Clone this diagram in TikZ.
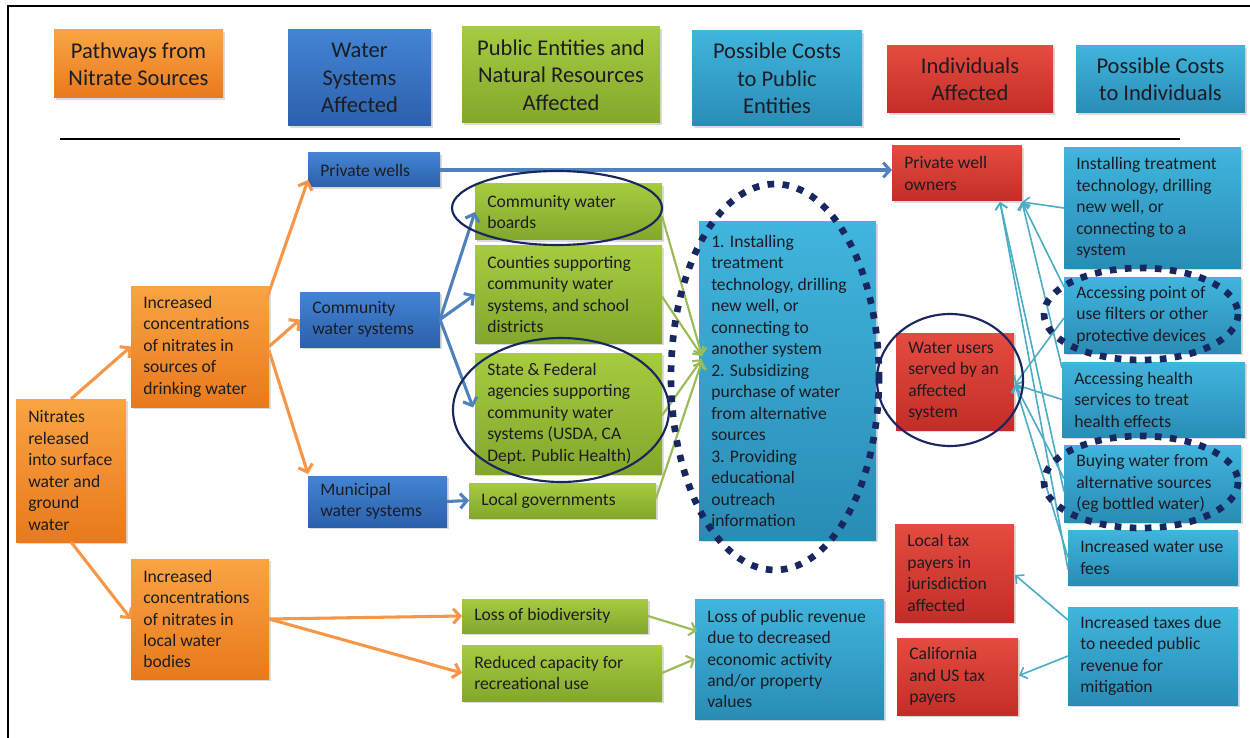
\documentclass[tikz,border=0pt]{standalone}
\usepackage{fontspec}
\setmainfont{Carlito}
\usetikzlibrary{arrows.meta,calc,shadows}

% box fills (top / bottom of the gradient)
\definecolor{orTop}{HTML}{F9A443}
\definecolor{orBot}{HTML}{E8791E}
\definecolor{blTop}{HTML}{4384D2}
\definecolor{blBot}{HTML}{2C60AC}
\definecolor{grTop}{HTML}{A6CB40}
\definecolor{grBot}{HTML}{83A72C}
\definecolor{tlTop}{HTML}{40B5DD}
\definecolor{tlBot}{HTML}{2A8CB5}
\definecolor{rdTop}{HTML}{E54B40}
\definecolor{rdBot}{HTML}{C22E27}
% connectors and outlines
\definecolor{arrOr}{HTML}{F79646}
\definecolor{arrBl}{HTML}{4F81BD}
\definecolor{arrGr}{HTML}{9BBB59}
\definecolor{arrTl}{HTML}{4BACC6}
\definecolor{navy}{HTML}{18275F}
\definecolor{ink}{HTML}{1C1C22}

\newcommand\bodyfont{\fontsize{13.2}{16.1}\selectfont}
\newcommand\headfont{\fontsize{16.9}{20.6}\selectfont}

\tikzset{
  base/.style={rectangle, inner sep=0pt, outer sep=0pt,
    drop shadow={shadow xshift=1.2pt, shadow yshift=-1.5pt, opacity=0.28}},
  orbox/.style={base, top color=orTop, bottom color=orBot},
  blbox/.style={base, top color=blTop, bottom color=blBot},
  grbox/.style={base, top color=grTop, bottom color=grBot},
  tlbox/.style={base, top color=tlTop, bottom color=tlBot},
  rdbox/.style={base, top color=rdTop, bottom color=rdBot},
  txt/.style={inner sep=0pt, align=left, text=ink, font=\bodyfont},
  head/.style={inner sep=0pt, align=center, text=ink, font=\headfont},
  oarr/.style={draw=arrOr, line width=2.3pt,
    -{Straight Barb[length=5pt,width=11pt]}},
  barr/.style={draw=arrBl, line width=2.3pt,
    -{Straight Barb[length=5pt,width=11pt]}},
  garr/.style={draw=arrGr, line width=1.6pt,
    -{Straight Barb[length=4.5pt,width=10pt]}},
  tarr/.style={draw=arrTl, line width=1.2pt,
    -{Straight Barb[length=4.5pt,width=9pt]}},
  ring/.style={draw=navy, line width=1.6pt},
  dotring/.style={draw=navy, line width=5pt, dash pattern=on 5pt off 6.3pt},
}

% #1 name, #2 style, #3 x1, #4 y1, #5 x2, #6 y2, #7 text (left aligned)
\newcommand\tbox[7]{%
  \node[#2, anchor=north west, minimum width={(#5-#3)*0.75pt},
        minimum height={(#6-#4)*0.75pt}] (#1) at (#3,#4) {};
  \node[txt, anchor=west] (#1-t) at ($(#1.west)+(12,0)$) {#7};
}
% same, with centred heading text
\newcommand\headbox[7]{%
  \node[#2, anchor=north west, minimum width={(#5-#3)*0.75pt},
        minimum height={(#6-#4)*0.75pt}] (#1) at (#3,#4) {};
  \node[head] (#1-t) at (#1.center) {#7};
}

\begin{document}
\begin{tikzpicture}[x=0.75pt, y=-0.75pt]
\useasboundingbox (0,0) rectangle (1250,738);
\fill[white] (0,0) rectangle (1250,738);

% frame and rule under the headings
\draw[black, line width=2.2pt] (8,738) -- (8,6) -- (1250,6);
\draw[black, line width=2.2pt] (60,139) -- (1180,139);

% column headings
\headbox{h1}{orbox}{54}{30}{223}{98}{Pathways from\\Nitrate Sources}
\headbox{h2}{blbox}{288}{30}{431}{126}{Water\\Systems\\Affected}
\headbox{h3}{grbox}{462}{27}{660}{123}{Public Entities and\\Natural Resources\\Affected}
\headbox{h4}{tlbox}{692}{31}{862}{126}{Possible Costs\\to Public\\Entities}
\headbox{h5}{rdbox}{887}{46}{1053}{113}{Individuals\\Affected}
\headbox{h6}{tlbox}{1076}{46}{1245}{113}{Possible Costs\\to Individuals}

% pathways
\tbox{nit}{orbox}{16}{399}{126}{542}{Nitrates\\released\\into surface\\water and\\ground\\water}
\tbox{incd}{orbox}{131}{286}{269}{407}{Increased\\concentrations\\of nitrates in\\sources of\\drinking water}
\tbox{incl}{orbox}{131}{559}{269}{679}{Increased\\concentrations\\of nitrates in\\local water\\bodies}

% water systems
\tbox{pw}{blbox}{308}{153}{440}{187}{Private wells}
\tbox{cws}{blbox}{300}{292}{440}{347}{Community\\water systems}
\tbox{mws}{blbox}{308}{476}{447}{527}{Municipal\\water systems}

% public entities and natural resources
\tbox{cwb}{grbox}{475}{184}{662}{240}{Community water\\boards}
\tbox{cty}{grbox}{475}{246}{662}{343}{Counties supporting\\community water\\systems, and school\\districts}
\tbox{sfa}{grbox}{475}{353}{662}{474}{State \& Federal\\agencies supporting\\community water\\systems (USDA, CA\\Dept. Public Health)}
\tbox{lg}{grbox}{469}{483}{656}{518}{Local governments}
\tbox{lob}{grbox}{462}{599}{648}{633}{Loss of biodiversity}
\tbox{rcr}{grbox}{462}{645}{662}{701}{Reduced capacity for\\recreational use}

% costs to public entities
\tbox{pce}{tlbox}{699}{222}{876}{540}{1. Installing\\treatment\\technology, drilling\\new well, or\\connecting to\\another system\\2. Subsidizing\\purchase of water\\from alternative\\sources\\3. Providing\\educational\\outreach\\information}
\tbox{lpr}{tlbox}{695}{599}{884}{719}{Loss of public revenue\\due to decreased\\economic activity\\and/or property\\values}

% individuals
\tbox{pwo}{rdbox}{892}{146}{1022}{201}{Private well\\owners}
\tbox{wu}{rdbox}{896}{333}{1014}{430}{Water users\\served by an\\affected\\system}
\tbox{ltp}{rdbox}{895}{524}{1014}{622}{Local tax\\payers in\\jurisdiction\\affected}
\tbox{cal}{rdbox}{897}{638}{1018}{715}{California\\and US tax\\payers}

% costs to individuals
\tbox{itt}{tlbox}{1064}{148}{1241}{268}{Installing treatment\\technology, drilling\\new well, or\\connecting to a\\system}
\tbox{apu}{tlbox}{1064}{277}{1241}{353}{Accessing point of\\use filters or other\\protective devices}
\tbox{ahs}{tlbox}{1062}{362}{1245}{437}{Accessing health\\services to treat\\health effects}
\tbox{bw}{tlbox}{1064}{445}{1241}{522}{Buying water from\\alternative sources\\(eg bottled water)}
\tbox{fee}{tlbox}{1068}{530}{1238}{585}{Increased water use\\fees}
\tbox{tax}{tlbox}{1068}{607}{1238}{705}{Increased taxes due\\to needed public\\revenue for\\mitigation}

% pathway connectors
\draw[oarr] (nit.north) -- (incd.west);
\draw[oarr] (nit.south) -- (incl.west);
\draw[oarr] ($(incd.north east)+(-2,12)$) -- ($(pw.south west)+(0,-7)$);
\draw[oarr] (incd.east) -- (cws.west);
\draw[oarr] ($(incd.east)+(0,4)$) -- ($(mws.north west)+(0,-2)$);
\draw[oarr] (incl.east) -- (lob.west);
\draw[oarr] (incl.east) -- (rcr.west);

% water system connectors
\draw[barr] (pw.east) -- (pw.east -| pwo.west);
\draw[barr] (cws.east) -- (cwb.west);
\draw[barr] (cws.east) -- (cty.west);
\draw[barr] (cws.east) -- ($(sfa.west)+(-2,-6)$);
\draw[barr] (mws.east) -- (lg.west);

% public entity connectors
\coordinate (hub) at ($(pce.west)+(3,-25)$);
\draw[garr] ($(cwb.east)+(0,4)$) -- (hub);
\draw[garr] ($(cty.east)+(0,2)$) -- (hub);
\draw[garr] ($(sfa.east)+(0,2)$) -- ($(hub)+(0,3)$);
\draw[garr] ($(lg.east)+(0,-2)$) -- ($(hub)+(0,5)$);
\draw[garr] (lob.east) -- ($(lpr.west)+(2,-28)$);
\draw[garr] (rcr.east) -- (lpr.west);

% individual cost connectors
\coordinate (pwoA) at ($(pwo.south east)+(-22,1)$);
\coordinate (pwoB) at ($(pwo.south east)+(0,1)$);
\coordinate (wuT) at ($(wu.east)+(1,3)$);
\draw[tarr] (itt.west) -- (pwoB);
\draw[tarr] ($(apu.north west)+(0,10)$) -- (pwoB);
\draw[tarr] ($(ahs.north west)+(0,6)$) -- (pwoB);
\draw[tarr] ($(bw.west)+(0,8)$) -- (pwoA);
\draw[tarr] ($(fee.west)+(0,12)$) -- (pwoA);
\draw[tarr] ($(apu.west)+(0,3)$) -- (wuT);
\draw[tarr] (ahs.west) -- (wuT);
\draw[tarr] ($(bw.west)+(0,-5)$) -- (wuT);
\draw[tarr] ($(fee.west)+(0,0)$) -- (wuT);
\draw[tarr] ($(tax.west)+(0,-36)$) -- ($(ltp.east)+(1,2)$);
\draw[tarr] (tax.west) -- ($(cal.east)+(1,-1)$);

% highlight rings
\draw[ring] (557,208) ellipse [x radius=105, y radius=37];
\draw[ring] (561,410) ellipse [x radius=108, y radius=72];
\draw[ring] (950,380) ellipse [x radius=73, y radius=66];
\draw[dotring] (775,377) ellipse [x radius=104, y radius=193];
\draw[dotring] (1141,314) ellipse [x radius=97, y radius=46];
\draw[dotring] (1141,482) ellipse [x radius=97, y radius=46];
\end{tikzpicture}
\end{document}
